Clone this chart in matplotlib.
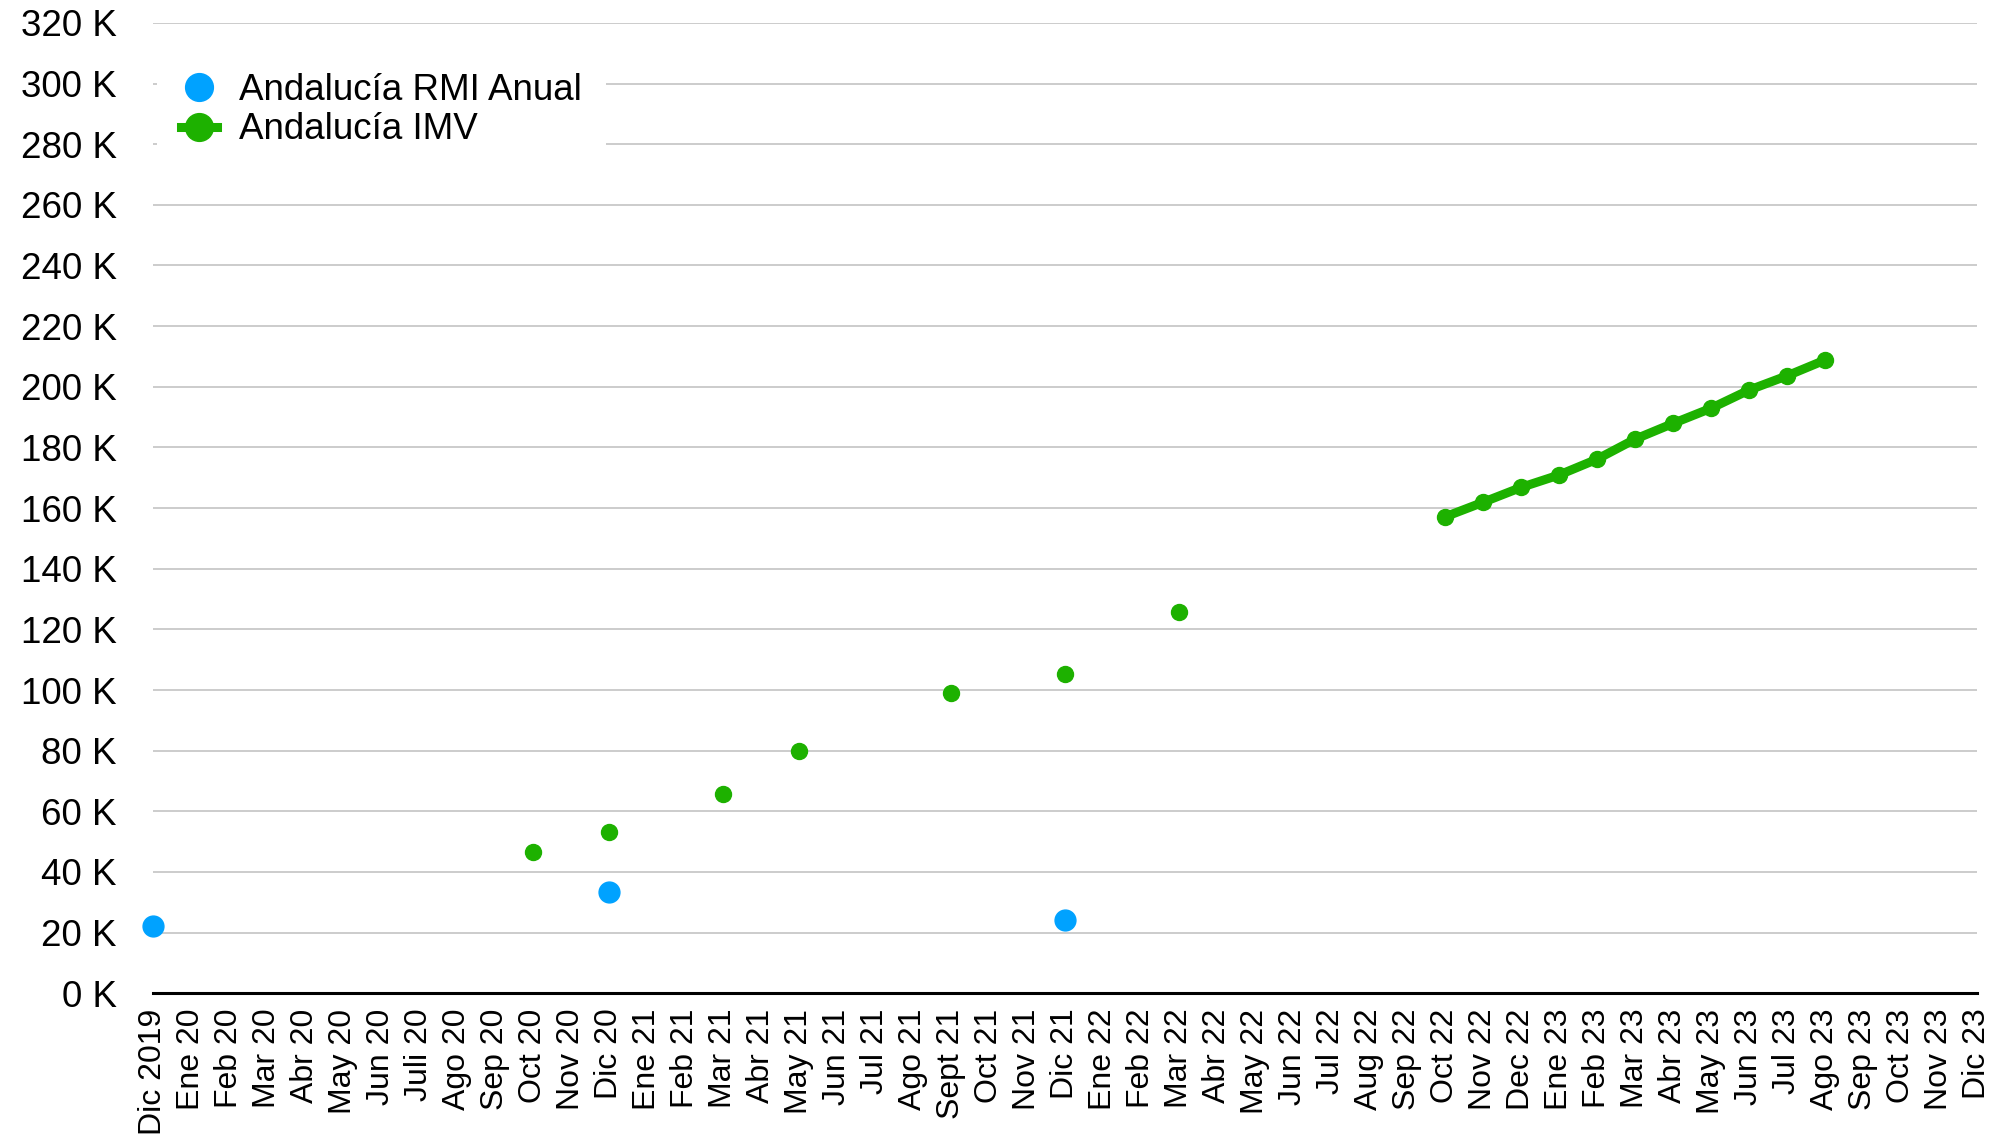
import numpy as np
import matplotlib
matplotlib.use("Agg")
import matplotlib.pyplot as plt
from matplotlib.lines import Line2D
from matplotlib.ticker import FuncFormatter, MultipleLocator

plt.rcParams['font.family'] = ['Liberation Sans', 'DejaVu Sans']

months = ['Dic 2019', 'Ene 20', 'Feb 20', 'Mar 20', 'Abr 20', 'May 20', 'Jun 20', 'Juli 20',
          'Ago 20', 'Sep 20', 'Oct 20', 'Nov 20', 'Dic 20', 'Ene 21', 'Feb 21', 'Mar 21',
          'Abr 21', 'May 21', 'Jun 21', 'Jul 21', 'Ago 21', 'Sept 21', 'Oct 21', 'Nov 21',
          'Dic 21', 'Ene 22', 'Feb 22', 'Mar 22', 'Abr 22', 'May 22', 'Jun 22', 'Jul 22',
          'Aug 22', 'Sep 22', 'Oct 22', 'Nov 22', 'Dec 22', 'Ene 23', 'Feb 23', 'Mar 23',
          'Abr 23', 'May 23', 'Jun 23', 'Jul 23', 'Ago 23', 'Sep 23', 'Oct 23', 'Nov 23',
          'Dic 23']

# RMI anual (only three yearly values)
rmi_months = ['Dic 2019', 'Dic 20', 'Dic 21']
rmi_values = [22200, 33500, 24300]

# IMV: sparse early points, then monthly
imv_months = ['Oct 20', 'Dic 20', 'Mar 21', 'May 21', 'Sept 21', 'Dic 21', 'Mar 22',
              'Oct 22', 'Nov 22', 'Dec 22', 'Ene 23', 'Feb 23', 'Mar 23', 'Abr 23',
              'May 23', 'Jun 23', 'Jul 23', 'Ago 23']
imv_values = [46500, 53300, 65800, 79800, 99100, 105300, 125700,
              157100, 161900, 166800, 170900, 176100, 182700, 187900,
              192900, 198900, 203600, 208800]

BLUE = '#00A2FF'
GREEN = '#1DB100'

# put series on the full month axis (NaN where no data -> gaps in the line)
idx = {m: i for i, m in enumerate(months)}
x = np.arange(len(months))
rmi = np.full(len(months), np.nan)
for m, v in zip(rmi_months, rmi_values):
    rmi[idx[m]] = v
imv = np.full(len(months), np.nan)
for m, v in zip(imv_months, imv_values):
    imv[idx[m]] = v

fig = plt.figure(figsize=(20.03, 11.43), dpi=100)
ax = fig.add_axes([0.0764, 0.131, 0.9106, 0.849])

ax.yaxis.grid(True, color='#c8c8c8', lw=1.3)
ax.set_axisbelow(True)

ax.plot(x, rmi, ls='none', marker='o', ms=15, color=BLUE, zorder=3, clip_on=False)
ax.plot(x, imv, ls='-', lw=6.5, marker='o', ms=11.5, color=GREEN, zorder=3, clip_on=False)

ax.set_xlim(0, len(months) - 1)
ax.set_ylim(0, 320000)
ax.yaxis.set_major_locator(MultipleLocator(20000))
ax.yaxis.set_major_formatter(FuncFormatter(lambda v, p: '%d K' % round(v / 1000)))

ax.set_xticks(x)
ax.set_xticklabels(months, rotation=90, fontsize=23)
ax.tick_params(axis='x', length=0, pad=11)
ax.tick_params(axis='y', length=0, pad=26, labelsize=26.5)

for s in ['left', 'right', 'top']:
    ax.spines[s].set_visible(False)
ax.spines['bottom'].set_linewidth(2.2)
ax.spines['bottom'].set_color('black')
ax.spines['bottom'].set_zorder(4)

handles = [
    Line2D([], [], ls='none', marker='o', ms=20, color=BLUE),
    Line2D([], [], ls='-', lw=6.5, marker='o', ms=20, color=GREEN),
]
leg = ax.legend(handles, ['Andalucía RMI Anual', 'Andalucía IMV'],
                loc='upper left', bbox_to_anchor=(0.002, 0.973), borderaxespad=0,
                fontsize=26.5, frameon=True, fancybox=False, framealpha=1,
                facecolor='white', edgecolor='none', handlelength=1.0,
                handletextpad=0.6, labelspacing=0.12, borderpad=0.65)

fig.savefig('out.png', dpi=100)
